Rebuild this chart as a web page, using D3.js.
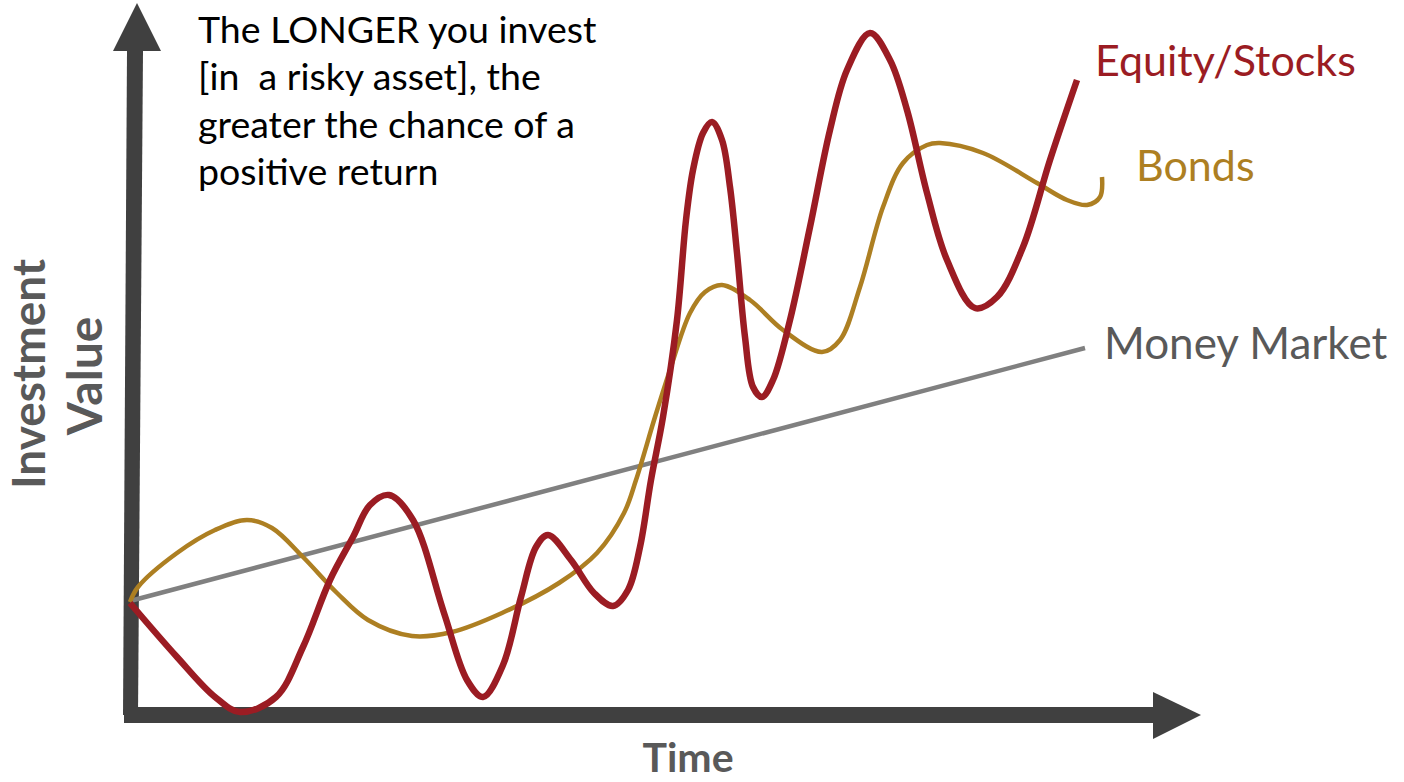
<!DOCTYPE html>
<html>
<head>
<meta charset="utf-8">
<script src="https://cdn.jsdelivr.net/npm/d3@7"></script>
<style>
  html, body { margin: 0; padding: 0; background: #fff; }
  svg { display: block; }
  text { white-space: pre; }
</style>
</head>
<body>
<svg id="chart" width="1404" height="782"></svg>
<script>
// ---- data (time units 0..96, value units 0..70) ----
const equityTime  = [0, 4.7, 8.5, 11, 14.6, 17.3, 20, 22.3, 24, 25.9, 28.3, 31.4, 33.7, 35.3, 37.3, 39.1, 40.6, 41.8, 44.1, 46.4, 48.3, 49.8, 51, 52.1, 53.3, 54.7, 55.6, 56.3, 57.3, 58.2, 59.2, 60, 60.7, 61.5, 62.3, 63.2, 64.3, 66, 68, 70, 71.7, 74, 76, 77.7, 79.7, 81.7, 84.5, 86.7, 89.3, 92, 94.7];
const equityValue = [11.2, 5.8, 1.8, 0.3, 1.8, 6.8, 13.5, 17.8, 21, 22, 19.5, 10.2, 3.5, 1.8, 5, 11.8, 16.8, 18, 15.5, 12.2, 10.9, 12.5, 16.8, 23.5, 29.8, 39.5, 49.5, 54.5, 58.2, 59.3, 57.5, 52.8, 46.2, 37.8, 32.8, 31.8, 33.5, 39.5, 48.8, 58.5, 64.5, 68.2, 65.5, 60.5, 52.2, 45.5, 40.7, 41.8, 46.8, 55.5, 63.5];

const bondsTime  = [0, 0.8, 4.7, 8.5, 11.7, 14.2, 17.3, 20.7, 23.8, 28.2, 32.2, 37.2, 42.9, 46.7, 49.4, 50.6, 52.5, 54, 56, 57.5, 59.2, 62, 65.3, 69.2, 71, 73, 75.3, 77.3, 79.7, 81, 85.3, 90.7, 93.7, 95.7, 97, 97.2];
const bondsValue = [11.3, 12.8, 16.2, 18.5, 19.5, 18.7, 15.8, 12.2, 9.5, 7.9, 8.3, 10.2, 13.2, 16.2, 20.2, 23.5, 29.8, 34.5, 40.2, 42.3, 43, 41.5, 38.5, 36.3, 37.5, 42.8, 50.8, 55.2, 57, 57.2, 56.2, 53.2, 51.5, 51, 51.8, 53.8];

const moneyTime  = [0, 95.5];
const moneyValue = [11.4, 36.7];

const seriesNames = ["Equity/Stocks", "Bonds", "Money Market"];
const axisTitles  = ["Time", "Investment", "Value"];
const noteLines   = ["The LONGER you invest", "[in  a risky asset], the", "greater the chance of a", "positive return"];

// ---- drawing ----
const svg = d3.select("#chart");
const x = d3.scaleLinear().domain([0, 96]).range([130, 1090]);
const y = d3.scaleLinear().domain([0, 70]).range([715, 15]);
const pts = arr => arr.map(p => [x(p[0]), y(p[1])].join(",")).join(" ");

const axisColor = "#404040";
// y axis bar (slightly tilted, as in the hand-drawn original) + arrow head
svg.append("polygon")
  .attr("points", pts([[-0.7, 0], [0.8, 0], [1.3, 66.4], [-0.3, 66.4]]))
  .attr("fill", axisColor);
svg.append("polygon")
  .attr("points", pts([[-1.7, 66.4], [3.1, 66.4], [0.7, 71.2]]))
  .attr("fill", axisColor);
// x axis bar + arrow head
svg.append("polygon")
  .attr("points", pts([[-0.6, 0.8], [102.3, 0.8], [102.3, -0.8], [-0.6, -0.8]]))
  .attr("fill", axisColor);
svg.append("polygon")
  .attr("points", pts([[102.3, 2.3], [102.3, -2.4], [107.1, 0]]))
  .attr("fill", axisColor);

const line = d3.line().x(d => x(d[0])).y(d => y(d[1])).curve(d3.curveCatmullRom.alpha(0.5));
const zip = (a, b) => a.map((t, i) => [t, b[i]]);

svg.append("path").datum(zip(moneyTime, moneyValue))
  .attr("d", d3.line().x(d => x(d[0])).y(d => y(d[1])))
  .attr("fill", "none").attr("stroke", "#808080").attr("stroke-width", 4.5);

svg.append("path").datum(zip(bondsTime, bondsValue))
  .attr("d", line)
  .attr("fill", "none").attr("stroke", "#AD7F22").attr("stroke-width", 4.5)
  .attr("stroke-linejoin", "round");

svg.append("path").datum(zip(equityTime, equityValue))
  .attr("d", line)
  .attr("fill", "none").attr("stroke", "#9B1C23").attr("stroke-width", 6.5)
  .attr("stroke-linejoin", "round");

// series labels
const font = "Lato, 'Open Sans', sans-serif";
svg.append("text").attr("x", 1095).attr("y", 76).text(seriesNames[0])
  .attr("fill", "#9B1C23").attr("font-family", font).attr("font-size", 43);
svg.append("text").attr("x", 1136).attr("y", 181).text(seriesNames[1])
  .attr("fill", "#AD7F22").attr("font-family", font).attr("font-size", 43);
svg.append("text").attr("x", 1104).attr("y", 359).text(seriesNames[2])
  .attr("fill", "#595959").attr("font-family", font).attr("font-size", 44);

// annotation
const note = svg.append("text").attr("font-family", font).attr("font-size", 37.5).attr("fill", "#000");
noteLines.forEach((s, i) => {
  note.append("tspan").attr("x", 198).attr("y", 43 + i * 47.3).text(s);
});

// axis titles
svg.append("text").attr("x", 688).attr("y", 772).attr("text-anchor", "middle")
  .attr("font-family", font).attr("font-weight", 700).attr("font-size", 41).attr("fill", "#595959")
  .text(axisTitles[0]);
svg.append("text").attr("transform", "translate(45,374) rotate(-90)").attr("text-anchor", "middle")
  .attr("font-family", font).attr("font-weight", 700).attr("font-size", 46).attr("fill", "#595959")
  .text(axisTitles[1]);
svg.append("text").attr("transform", "translate(102,376) rotate(-90)").attr("text-anchor", "middle")
  .attr("font-family", font).attr("font-weight", 700).attr("font-size", 48).attr("fill", "#595959")
  .text(axisTitles[2]);
</script>
</body>
</html>
